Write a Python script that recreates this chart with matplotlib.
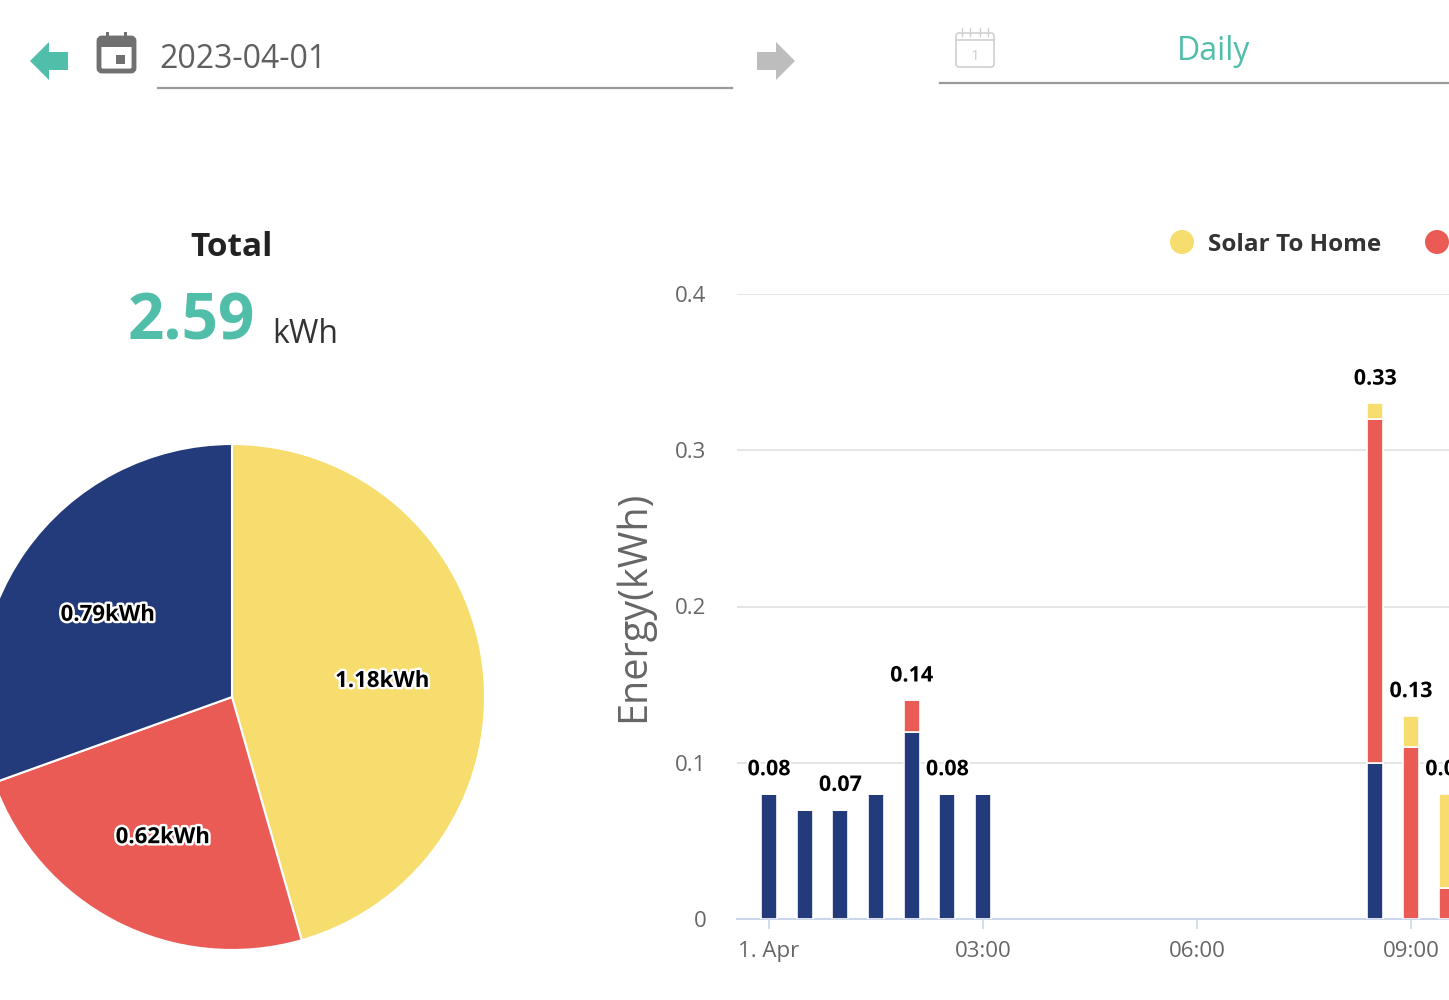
import matplotlib
matplotlib.use("Agg")
import matplotlib.pyplot as plt
import matplotlib.patheffects as pe
from matplotlib.patches import Polygon, Rectangle, FancyBboxPatch, Circle
import numpy as np

plt.rcParams['font.family'] = ['Open Sans', 'DejaVu Sans']

# --- data ---
day = "2023-04-01"
period = "Daily"
total_kwh = 2.59

pie_values = [1.18, 0.62, 0.79]          # solar, red series, navy series
pie_colors = ['#f7dc6e', '#ea5b55', '#233b7a']

slot_hours = [0, 0.5, 1, 1.5, 2, 2.5, 3, 8.5, 9, 9.5]
navy_home = [0.08, 0.07, 0.07, 0.08, 0.12, 0.08, 0.08, 0.10, 0.00, 0.00]
red_home = [0.00, 0.00, 0.00, 0.00, 0.02, 0.00, 0.00, 0.22, 0.11, 0.02]
solar_home = [0.00, 0.00, 0.00, 0.00, 0.00, 0.00, 0.00, 0.01, 0.02, 0.06]
shown_labels = [0, 2, 4, 5, 7, 8, 9]     # labels the chart did not hide

xtick_hours = [0, 3, 6, 9]
xtick_labels = ["1. Apr", "03:00", "06:00", "09:00"]
yticks = [0, 0.1, 0.2, 0.3, 0.4]

TEAL = '#50bea9'
W, H = 1449, 1000

fig = plt.figure(figsize=(W / 100, H / 100), dpi=100)
fig.patch.set_facecolor('white')

# overlay in pixel units for the page furniture
ov = fig.add_axes([0, 0, 1, 1])
ov.set_xlim(0, W)
ov.set_ylim(H, 0)
ov.axis('off')

# back arrow (teal)
ov.add_patch(Polygon([(30, 61), (49, 42), (49, 52), (68, 52), (68, 70), (49, 70), (49, 80)],
                     closed=True, color=TEAL, lw=0))
# forward arrow (grey)
ov.add_patch(Polygon([(795, 61), (776, 42), (776, 52), (757, 52), (757, 70), (776, 70), (776, 80)],
                     closed=True, color='#bdbdbd', lw=0))
# calendar icon (filled)
ov.add_patch(FancyBboxPatch((99, 38), 35, 33, boxstyle="round,pad=0,rounding_size=3",
                            fc='none', ec='#707070', lw=3.5))
ov.add_patch(Rectangle((99, 38), 35, 9, color='#707070', lw=0))
ov.add_patch(Rectangle((106, 32), 3, 8, color='#707070', lw=0))
ov.add_patch(Rectangle((124, 32), 3, 8, color='#707070', lw=0))
ov.add_patch(Rectangle((116, 55), 9, 9, color='#707070', lw=0))
ov.text(159, 59, day, fontsize=23, color='#5f5f5f', ha='left', va='center')
ov.plot([158, 732], [88, 88], color='#9a9a9a', lw=1.6)

# calendar icon (outline)
ov.add_patch(FancyBboxPatch((956, 33), 38, 34, boxstyle="round,pad=0,rounding_size=3",
                            fc='none', ec='#cfcfcf', lw=1.2))
ov.plot([956, 994], [40, 40], color='#cfcfcf', lw=1.2)
for xx in (962, 970, 980, 988):
    ov.plot([xx, xx], [28, 36], color='#cfcfcf', lw=1.0)
ov.text(975, 56, "1", fontsize=11, color='#cfcfcf', ha='center', va='center')
ov.text(1214, 51, period, fontsize=23, color=TEAL, ha='center', va='center')
ov.plot([940, W], [83, 83], color='#9a9a9a', lw=1.6)

# totals header
ov.text(232, 247, "Total", fontsize=24, fontweight='bold', color='#222222',
        ha='center', va='center')
ov.text(255, 339, f"{total_kwh:.2f}", fontsize=46, fontweight='bold', color=TEAL,
        ha='right', va='baseline')
ov.text(272, 343, "kWh", fontsize=23, color='#333333', ha='left', va='baseline')

# legend (cut at the right edge)
ov.add_patch(Circle((1182, 242), 12, color=pie_colors[0], lw=0))
ov.text(1208, 245, "Solar To Home", fontsize=17.5, fontweight='bold', color='#333333',
        ha='left', va='center')
ov.add_patch(Circle((1437, 242), 12, color=pie_colors[1], lw=0))

# --- pie ---
cx, cy, r = 232, 697, 253
pax = fig.add_axes([(cx - r) / W, (H - cy - r) / H, 2 * r / W, 2 * r / H])
wedges, _ = pax.pie(pie_values, colors=pie_colors, startangle=90, counterclock=False,
                    radius=1, wedgeprops=dict(edgecolor='white', linewidth=1.5))
pax.set_xlim(-1, 1)
pax.set_ylim(-1, 1)
pax.axis('off')
for w, v in zip(wedges, pie_values):
    mid = np.deg2rad((w.theta1 + w.theta2) / 2)
    pax.annotate(f"{v:.2f}kWh", xy=(0.6 * np.cos(mid), 0.6 * np.sin(mid)),
                 xytext=(0, -4), textcoords='offset points', fontsize=16,
                 fontweight='bold', color='black', ha='center', va='center',
                 path_effects=[pe.withStroke(linewidth=3.5, foreground='white')])

# --- stacked bar chart ---
left, right, bottom, top = 737, W, 919, 294
ax = fig.add_axes([left / W, (H - bottom) / H, (right - left) / W, (bottom - top) / H])
px_per_hour = (1411 - 769) / 9
ax.set_xlim(-(769 - left) / px_per_hour, (right - 769) / px_per_hour)
ax.set_ylim(0, 0.4)

bar_w = 16 / px_per_hour
x = np.array(slot_hours)
navy = np.array(navy_home)
red = np.array(red_home)
sol = np.array(solar_home)
ax.bar(x, navy, bar_w, color=pie_colors[2], edgecolor='white', linewidth=1.2, zorder=3)
ax.bar(x, red, bar_w, bottom=navy, color=pie_colors[1], edgecolor='white', linewidth=1.2, zorder=3)
ax.bar(x, sol, bar_w, bottom=navy + red, color=pie_colors[0], edgecolor='white', linewidth=1.2, zorder=3)

totals = navy + red + sol
for i in shown_labels:
    ax.annotate(f"{totals[i]:.2f}", xy=(x[i], totals[i]), xytext=(0, 13.5),
                textcoords='offset points', ha='center', va='baseline', fontsize=15.5,
                fontweight='bold', color='black', zorder=5, annotation_clip=False,
                path_effects=[pe.withStroke(linewidth=3, foreground='white')])

ax.set_yticks(yticks)
ax.set_yticklabels(["0" if t == 0 else f"{t:g}" for t in yticks])
ax.set_xticks(xtick_hours)
ax.set_xticklabels(xtick_labels)
ax.tick_params(axis='y', length=0, pad=22, labelsize=16, labelcolor='#666666')
ax.tick_params(axis='x', length=7.2, width=1.2, color='#ccd6eb', pad=8.5,
               labelsize=16, labelcolor='#666666')
ax.yaxis.grid(True, color='#e3e3e3', linewidth=1.3)
ax.set_axisbelow(True)
for s in ('top', 'right', 'left'):
    ax.spines[s].set_visible(False)
ax.spines['bottom'].set_color('#ccd6eb')
ax.spines['bottom'].set_linewidth(1.5)
ax.set_facecolor('none')

ax.set_ylabel("Energy(kWh)", fontsize=28.5, color='#666666')
ax.yaxis.set_label_coords((654 - left) / (right - left), 0.5)

fig.savefig("out.png", dpi=100, facecolor='white')
